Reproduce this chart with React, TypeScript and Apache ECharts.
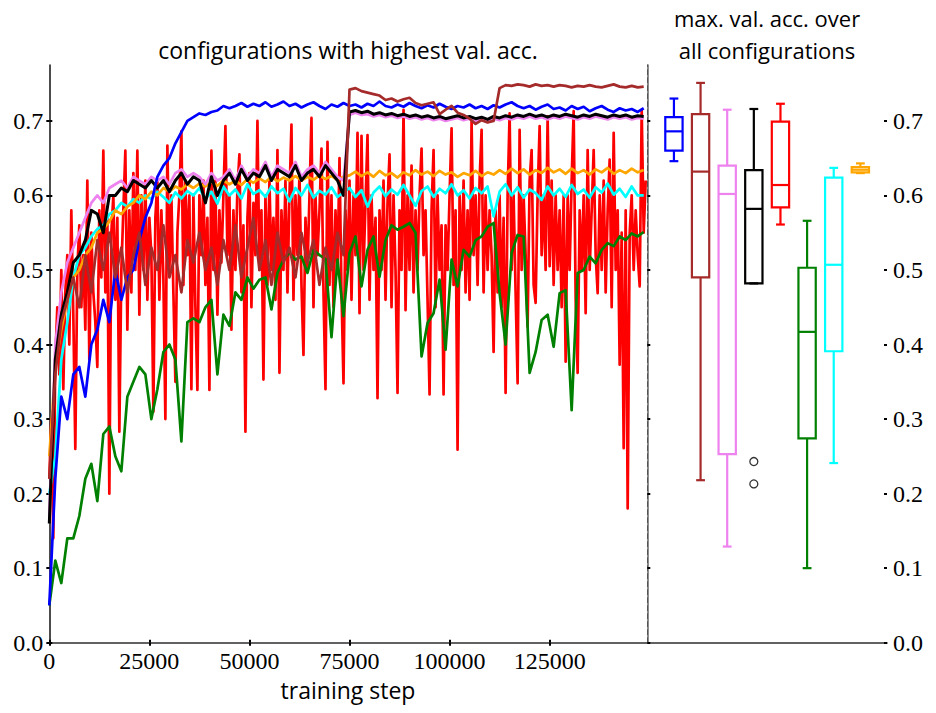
import React, { useEffect, useRef } from "react";
import * as echarts from "echarts";

// ---------- data ----------
const STEP = 1500; // evaluation interval of the smooth curves
const RED_STEP = 500; // evaluation interval of the red curve
const X_MAX = 149400;
const Y_MAX = 0.775;
const X_TICKS = [0, 25000, 50000, 75000, 100000, 125000];
const Y_TICKS = [0, 0.1, 0.2, 0.3, 0.4, 0.5, 0.6, 0.7];

const blueAcc = [
  0.05, 0.22, 0.33, 0.30, 0.36, 0.37, 0.33, 0.40, 0.42, 0.46,
  0.43, 0.50, 0.46, 0.49, 0.50, 0.54, 0.57, 0.59, 0.625, 0.64,
  0.65, 0.67, 0.685, 0.70, 0.705, 0.71, 0.708, 0.712, 0.714, 0.72,
  0.717, 0.72, 0.724, 0.719, 0.723, 0.72, 0.725, 0.719, 0.722, 0.726,
  0.72, 0.723, 0.718, 0.722, 0.725, 0.72, 0.716, 0.722, 0.719, 0.724,
  0.72, 0.722, 0.718, 0.723, 0.72, 0.726, 0.72, 0.718, 0.722, 0.719,
  0.724, 0.72, 0.717, 0.721, 0.718, 0.723, 0.719, 0.716, 0.72, 0.718,
  0.722, 0.717, 0.72, 0.716, 0.721, 0.718, 0.722, 0.725, 0.72, 0.717,
  0.72, 0.715, 0.719, 0.722, 0.716, 0.718, 0.714, 0.72, 0.716, 0.719,
  0.713, 0.717, 0.72, 0.715, 0.712, 0.717, 0.714, 0.716, 0.712, 0.717,
];

const brownAcc = [
  0.22, 0.36, 0.43, 0.46, 0.49, 0.45, 0.52, 0.47, 0.54, 0.50,
  0.55, 0.49, 0.53, 0.47, 0.52, 0.55, 0.48, 0.53, 0.50, 0.56,
  0.49, 0.52, 0.47, 0.54, 0.51, 0.55, 0.50, 0.53, 0.48, 0.54,
  0.50, 0.56, 0.49, 0.53, 0.57, 0.50, 0.54, 0.48, 0.55, 0.51,
  0.53, 0.49, 0.55, 0.51, 0.54, 0.48, 0.53, 0.50, 0.55, 0.52,
  0.742, 0.744, 0.74, 0.738, 0.736, 0.734, 0.728, 0.73, 0.726, 0.729,
  0.731, 0.724, 0.721, 0.723, 0.725, 0.709, 0.715, 0.72, 0.711, 0.708,
  0.703, 0.696, 0.701, 0.698, 0.70, 0.744, 0.748, 0.747, 0.749, 0.748,
  0.746, 0.749, 0.747, 0.748, 0.746, 0.748, 0.747, 0.745, 0.747, 0.746,
  0.748, 0.746, 0.745, 0.747, 0.749, 0.746, 0.745, 0.747, 0.745, 0.746,
];

const violetAcc = [
  0.17, 0.40, 0.47, 0.51, 0.53, 0.55, 0.57, 0.59, 0.60, 0.59,
  0.61, 0.615, 0.62, 0.61, 0.625, 0.62, 0.615, 0.625, 0.62, 0.625,
  0.615, 0.63, 0.635, 0.625, 0.63, 0.625, 0.615, 0.63, 0.62, 0.625,
  0.635, 0.62, 0.64, 0.625, 0.635, 0.63, 0.645, 0.625, 0.64, 0.635,
  0.63, 0.645, 0.625, 0.635, 0.64, 0.63, 0.645, 0.635, 0.625, 0.62,
  0.708, 0.711, 0.708, 0.709, 0.706, 0.708, 0.705, 0.707, 0.704, 0.706,
  0.703, 0.705, 0.702, 0.704, 0.701, 0.703, 0.70, 0.702, 0.704, 0.701,
  0.703, 0.70, 0.702, 0.699, 0.703, 0.701, 0.704, 0.702, 0.705, 0.703,
  0.706, 0.703, 0.705, 0.702, 0.705, 0.703, 0.706, 0.704, 0.702, 0.705,
  0.703, 0.706, 0.704, 0.702, 0.705, 0.703, 0.705, 0.702, 0.704, 0.703,
];

const blackAcc = [
  0.16, 0.38, 0.44, 0.47, 0.51, 0.52, 0.54, 0.58, 0.575, 0.55,
  0.60, 0.60, 0.61, 0.605, 0.62, 0.615, 0.61, 0.62, 0.61, 0.62,
  0.605, 0.62, 0.63, 0.615, 0.625, 0.62, 0.59, 0.625, 0.60, 0.62,
  0.63, 0.615, 0.635, 0.62, 0.63, 0.625, 0.64, 0.62, 0.635, 0.63,
  0.625, 0.64, 0.62, 0.63, 0.635, 0.625, 0.64, 0.63, 0.62, 0.60,
  0.712, 0.714, 0.711, 0.713, 0.709, 0.711, 0.708, 0.71, 0.707, 0.709,
  0.706, 0.708, 0.705, 0.707, 0.704, 0.706, 0.703, 0.705, 0.707, 0.704,
  0.706, 0.703, 0.705, 0.702, 0.706, 0.704, 0.707, 0.705, 0.708, 0.706,
  0.709, 0.706, 0.708, 0.705, 0.708, 0.706, 0.709, 0.707, 0.705, 0.708,
  0.706, 0.709, 0.707, 0.705, 0.708, 0.706, 0.708, 0.705, 0.707, 0.706,
];

const redAcc = [
  0.22, 0.30, 0.14, 0.38, 0.45, 0.36, 0.50, 0.34, 0.47, 0.52,
  0.40, 0.58, 0.44, 0.26, 0.50, 0.56, 0.45, 0.52, 0.42, 0.62,
  0.38, 0.55, 0.47, 0.43, 0.37, 0.58, 0.49, 0.66, 0.47, 0.57,
  0.20, 0.55, 0.60, 0.46, 0.57, 0.283, 0.50, 0.58, 0.66, 0.42,
  0.58, 0.47, 0.63, 0.50, 0.66, 0.44, 0.60, 0.50, 0.62, 0.46,
  0.57, 0.52, 0.31, 0.57, 0.62, 0.46, 0.58, 0.49, 0.30, 0.667,
  0.50, 0.60, 0.47, 0.35, 0.55, 0.60, 0.686, 0.48, 0.62, 0.52,
  0.60, 0.34, 0.60, 0.45, 0.339, 0.60, 0.52, 0.62, 0.48, 0.57,
  0.339, 0.66, 0.50, 0.62, 0.44, 0.58, 0.51, 0.60, 0.693, 0.52,
  0.60, 0.42, 0.58, 0.50, 0.61, 0.655, 0.47, 0.56, 0.283, 0.57,
  0.63, 0.45, 0.59, 0.52, 0.70, 0.50, 0.58, 0.353, 0.60, 0.48,
  0.62, 0.50, 0.57, 0.46, 0.661, 0.362, 0.58, 0.50, 0.62, 0.47,
  0.60, 0.695, 0.46, 0.60, 0.52, 0.63, 0.48, 0.386, 0.57, 0.50,
  0.60, 0.704, 0.45, 0.60, 0.52, 0.58, 0.663, 0.47, 0.34, 0.672,
  0.48, 0.60, 0.45, 0.58, 0.50, 0.65, 0.47, 0.348, 0.58, 0.50,
  0.62, 0.46, 0.60, 0.52, 0.684, 0.442, 0.68, 0.50, 0.59, 0.681,
  0.46, 0.60, 0.50, 0.57, 0.328, 0.58, 0.50, 0.62, 0.46, 0.59,
  0.655, 0.45, 0.60, 0.50, 0.335, 0.58, 0.50, 0.715, 0.446, 0.60,
  0.50, 0.64, 0.47, 0.58, 0.50, 0.60, 0.663, 0.52, 0.58, 0.46,
  0.333, 0.58, 0.661, 0.45, 0.60, 0.50, 0.56, 0.333, 0.56, 0.50,
  0.60, 0.69, 0.48, 0.58, 0.259, 0.60, 0.50, 0.62, 0.47, 0.58,
  0.46, 0.70, 0.52, 0.60, 0.48, 0.62, 0.688, 0.47, 0.60, 0.50,
  0.58, 0.52, 0.39, 0.58, 0.47, 0.60, 0.45, 0.57, 0.335, 0.60,
  0.71, 0.50, 0.60, 0.47, 0.348, 0.688, 0.50, 0.60, 0.52, 0.424,
  0.62, 0.661, 0.48, 0.456, 0.60, 0.693, 0.52, 0.60, 0.50, 0.706,
  0.505, 0.62, 0.48, 0.60, 0.50, 0.58, 0.45, 0.60, 0.377, 0.60,
  0.50, 0.62, 0.713, 0.46, 0.362, 0.58, 0.50, 0.60, 0.442, 0.661,
  0.50, 0.58, 0.661, 0.52, 0.469, 0.60, 0.50, 0.62, 0.47, 0.58,
  0.648, 0.45, 0.684, 0.50, 0.58, 0.373, 0.55, 0.261, 0.58, 0.18,
  0.55, 0.60, 0.50, 0.58, 0.52, 0.478, 0.715, 0.55, 0.62,
];

const greenAcc = [
  0.05, 0.11, 0.08, 0.14, 0.14, 0.17, 0.22, 0.24, 0.19, 0.28,
  0.29, 0.25, 0.23, 0.33, 0.35, 0.37, 0.36, 0.30, 0.34, 0.39,
  0.40, 0.38, 0.27, 0.43, 0.435, 0.43, 0.45, 0.46, 0.36, 0.44,
  0.425, 0.47, 0.46, 0.49, 0.475, 0.487, 0.49, 0.447, 0.496, 0.514,
  0.523, 0.514, 0.518, 0.496, 0.527, 0.52, 0.515, 0.41, 0.514, 0.438,
  0.523, 0.545, 0.478, 0.527, 0.545, 0.491, 0.54, 0.56, 0.554, 0.558,
  0.563, 0.55, 0.384, 0.429, 0.442, 0.487, 0.393, 0.514, 0.478, 0.527,
  0.518, 0.54, 0.545, 0.558, 0.563, 0.469, 0.40, 0.523, 0.547, 0.545,
  0.362, 0.39, 0.433, 0.44, 0.397, 0.469, 0.473, 0.312, 0.496, 0.50,
  0.518, 0.509, 0.527, 0.536, 0.532, 0.545, 0.54, 0.549, 0.545, 0.551,
];

const cyanAcc = [
  0.20, 0.25, 0.38, 0.43, 0.49, 0.52, 0.53, 0.545, 0.555, 0.56,
  0.575, 0.58, 0.59, 0.585, 0.595, 0.59, 0.60, 0.595, 0.605, 0.598,
  0.59, 0.604, 0.596, 0.606, 0.60, 0.61, 0.595, 0.605, 0.589, 0.612,
  0.60, 0.608, 0.596, 0.615, 0.602, 0.607, 0.598, 0.612, 0.603, 0.609,
  0.592, 0.61, 0.60, 0.614, 0.597, 0.606, 0.601, 0.611, 0.598, 0.604,
  0.61, 0.598, 0.607, 0.585, 0.604, 0.612, 0.599, 0.608, 0.601, 0.614,
  0.60, 0.586, 0.606, 0.612, 0.598, 0.609, 0.603, 0.615, 0.60, 0.607,
  0.596, 0.61, 0.603, 0.612, 0.572, 0.605, 0.615, 0.60, 0.611, 0.597,
  0.608, 0.603, 0.594, 0.612, 0.60, 0.609, 0.598, 0.614, 0.602, 0.608,
  0.597, 0.611, 0.604, 0.616, 0.601, 0.609, 0.598, 0.612, 0.60, 0.60,
];

const orangeAcc = [
  0.25, 0.37, 0.42, 0.46, 0.49, 0.50, 0.52, 0.53, 0.55, 0.555,
  0.565, 0.58, 0.575, 0.585, 0.59, 0.60, 0.595, 0.605, 0.60, 0.61,
  0.605, 0.612, 0.608, 0.615, 0.61, 0.616, 0.612, 0.618, 0.613, 0.62,
  0.615, 0.62, 0.614, 0.622, 0.617, 0.623, 0.618, 0.625, 0.619, 0.624,
  0.62, 0.626, 0.62, 0.625, 0.621, 0.627, 0.622, 0.626, 0.621, 0.625,
  0.627, 0.632, 0.626, 0.631, 0.625, 0.633, 0.627, 0.63, 0.624, 0.631,
  0.627, 0.634, 0.628, 0.632, 0.626, 0.633, 0.628, 0.631, 0.625, 0.63,
  0.627, 0.633, 0.626, 0.631, 0.628, 0.634, 0.629, 0.636, 0.63, 0.635,
  0.628, 0.634, 0.63, 0.637, 0.631, 0.635, 0.629, 0.636, 0.63, 0.634,
  0.628, 0.635, 0.631, 0.637, 0.629, 0.634, 0.63, 0.636, 0.631, 0.634,
];

// box plots: max. val. acc. over all configurations
const BOX_COLORS = ["#0000ff", "#a52a2a", "#ee82ee", "#000000", "#ff0000", "#008000", "#00ffff", "#ffa500"];
const BOX_POS = [1, 2, 3, 4, 5, 6, 7, 8];
const BOX_MIN = [0.646, 0.218, 0.129, 0.482, 0.561, 0.100, 0.241, 0.630];
const BOX_Q1 = [0.660, 0.490, 0.253, 0.482, 0.584, 0.274, 0.391, 0.631];
const BOX_MEDIAN = [0.686, 0.632, 0.602, 0.582, 0.614, 0.417, 0.507, 0.6345];
const BOX_Q3 = [0.705, 0.709, 0.640, 0.634, 0.699, 0.503, 0.624, 0.638];
const BOX_MAX = [0.730, 0.751, 0.715, 0.716, 0.723, 0.566, 0.637, 0.643];
const OUTLIER_POS = [4, 4];
const OUTLIER_VAL = [0.243, 0.213];

// ---------- styling ----------
const SERIF = "Liberation Serif, DejaVu Serif, Noto Serif, serif";
const SANS = "Open Sans";

const toPairs = (vals: number[], step: number) => vals.map((v, i) => [i * step, v]);

const lineSeries = (name: string, vals: number[], step: number, color: string, width = 2.7) => ({
  name,
  type: "line",
  xAxisIndex: 0,
  yAxisIndex: 0,
  data: toPairs(vals, step),
  showSymbol: false,
  symbol: "none",
  lineStyle: { color, width, join: "round" },
  emphasis: { disabled: true },
  silent: true,
});

export default function App() {
  const ref = useRef<HTMLDivElement>(null);

  useEffect(() => {
    if (!ref.current) return;
    const chart = echarts.init(ref.current, null, { renderer: "svg" });

    const boxData = BOX_POS.map((p, i) => [p, BOX_MIN[i], BOX_Q1[i], BOX_MEDIAN[i], BOX_Q3[i], BOX_MAX[i]]);
    const outlierData = OUTLIER_POS.map((p, i) => [p, OUTLIER_VAL[i]]);

    const tickStyle = { color: "#000", width: 2 };
    const noSplit = { show: false };
    const noLabel = { show: false };

    const option: any = {
      animation: false,
      backgroundColor: "#ffffff",
      grid: [
        { left: 49.3, top: 65, width: 598, height: 577.7 },
        { left: 647.3, top: 65, width: 239.7, height: 577.7 },
      ],
      xAxis: [
        {
          gridIndex: 0, type: "value", min: 0, max: X_MAX, position: "bottom",
          axisLine: { lineStyle: { color: "#666", width: 1.5 } },
          axisTick: { customValues: X_TICKS, length: 3, lineStyle: tickStyle },
          axisLabel: noLabel, splitLine: noSplit,
        },
        {
          gridIndex: 0, type: "value", min: 0, max: X_MAX, position: "top",
          axisLine: { lineStyle: { color: "#555", width: 1.5 } },
          axisTick: { show: false }, axisLabel: noLabel, splitLine: noSplit,
        },
        {
          gridIndex: 1, type: "value", min: 0, max: 9, position: "bottom",
          axisLine: { lineStyle: { color: "#666", width: 1.5 } },
          axisTick: { show: false }, axisLabel: noLabel, splitLine: noSplit,
        },
        {
          gridIndex: 1, type: "value", min: 0, max: 9, position: "top",
          axisLine: { lineStyle: { color: "#555", width: 1.5 } },
          axisTick: { show: false }, axisLabel: noLabel, splitLine: noSplit,
        },
        {
          gridIndex: 0, type: "value", min: 0, max: X_MAX, position: "bottom",
          axisLine: { show: false },
          axisTick: { inside: true, customValues: X_TICKS, length: 3, lineStyle: tickStyle },
          axisLabel: noLabel, splitLine: noSplit,
        },
      ],
      yAxis: [
        {
          gridIndex: 0, type: "value", min: 0, max: Y_MAX, position: "left",
          axisLine: { lineStyle: { color: "#111", width: 1.5 } },
          axisTick: { customValues: Y_TICKS, length: 3, lineStyle: tickStyle },
          axisLabel: noLabel, splitLine: noSplit,
        },
        {
          gridIndex: 0, type: "value", min: 0, max: Y_MAX, position: "left",
          axisLine: { show: false },
          axisTick: { inside: true, customValues: Y_TICKS, length: 3, lineStyle: tickStyle },
          axisLabel: noLabel, splitLine: noSplit,
        },
        {
          gridIndex: 1, type: "value", min: 0, max: Y_MAX, position: "left",
          axisLine: { lineStyle: { color: "#222", width: 1, type: [5, 3] } },
          axisTick: { show: false }, axisLabel: noLabel, splitLine: noSplit,
        },
        {
          gridIndex: 1, type: "value", min: 0, max: Y_MAX, position: "right",
          axisLine: { lineStyle: { color: "#666", width: 1.5 } },
          axisTick: { customValues: Y_TICKS, length: 3, lineStyle: tickStyle },
          axisLabel: noLabel, splitLine: noSplit,
        },
        {
          gridIndex: 1, type: "value", min: 0, max: Y_MAX, position: "right",
          axisLine: { show: false },
          axisTick: { inside: true, customValues: Y_TICKS, length: 3, lineStyle: tickStyle },
          axisLabel: noLabel, splitLine: noSplit,
        },
      ],
      series: [
        lineSeries("red", redAcc, RED_STEP, "#ff0000", 2.7),
        lineSeries("green", greenAcc, STEP, "#008000"),
        lineSeries("cyan", cyanAcc, STEP, "#00ffff"),
        lineSeries("orange", orangeAcc, STEP, "#ffa500"),
        lineSeries("violet", violetAcc, STEP, "#ee82ee", 2.7),
        lineSeries("black", blackAcc, STEP, "#000000", 3),
        lineSeries("blue", blueAcc, STEP, "#0000ff"),
        lineSeries("brown", brownAcc, STEP, "#a52a2a"),
        {
          type: "custom",
          xAxisIndex: 2,
          yAxisIndex: 3,
          data: boxData,
          silent: true,
          renderItem: (params: any, api: any) => {
            const pos = api.value(0);
            const color = BOX_COLORS[params.dataIndex];
            const pMin = api.coord([pos, api.value(1)]);
            const pQ1 = api.coord([pos, api.value(2)]);
            const pMed = api.coord([pos, api.value(3)]);
            const pQ3 = api.coord([pos, api.value(4)]);
            const pMax = api.coord([pos, api.value(5)]);
            const unit = api.size([1, 0])[0];
            const half = (unit * 0.65) / 2;
            const cap = (unit * 0.33) / 2;
            const cx = pMed[0];
            const st = { stroke: color, lineWidth: 2.2, fill: "none" };
            return {
              type: "group",
              children: [
                { type: "line", shape: { x1: cx, y1: pQ3[1], x2: cx, y2: pMax[1] }, style: st },
                { type: "line", shape: { x1: cx, y1: pQ1[1], x2: cx, y2: pMin[1] }, style: st },
                { type: "line", shape: { x1: cx - cap, y1: pMax[1], x2: cx + cap, y2: pMax[1] }, style: st },
                { type: "line", shape: { x1: cx - cap, y1: pMin[1], x2: cx + cap, y2: pMin[1] }, style: st },
                { type: "rect", shape: { x: cx - half, y: pQ3[1], width: half * 2, height: pQ1[1] - pQ3[1] }, style: st },
                { type: "line", shape: { x1: cx - half, y1: pMed[1], x2: cx + half, y2: pMed[1] }, style: st },
              ],
            };
          },
        },
        {
          type: "scatter",
          xAxisIndex: 2,
          yAxisIndex: 3,
          data: outlierData,
          symbol: "circle",
          symbolSize: 8,
          silent: true,
          itemStyle: { color: "#ffffff", borderColor: "#000", borderWidth: 1.3 },
        },
      ],
    };

    chart.setOption(option);

    // tick labels placed through the axes' own scales
    const leftX = chart.convertToPixel({ xAxisIndex: 0 }, 0) as number;
    const rightX = chart.convertToPixel({ xAxisIndex: 2 }, 9) as number;
    const bottomY = chart.convertToPixel({ yAxisIndex: 0 }, 0) as number;
    const tickFont = { fontFamily: SERIF, fontSize: 24, fill: "#000" };
    const xLabels = X_TICKS.map((v) => ({
      type: "text",
      x: chart.convertToPixel({ xAxisIndex: 0 }, v) as number,
      y: bottomY + 18,
      silent: true,
      style: { text: String(v), ...tickFont, textAlign: "center", textVerticalAlign: "middle" },
    }));
    const yLeft = Y_TICKS.map((v) => ({
      type: "text",
      x: leftX - 6,
      y: chart.convertToPixel({ yAxisIndex: 0 }, v) as number,
      silent: true,
      style: { text: v.toFixed(1), ...tickFont, textAlign: "right", textVerticalAlign: "middle" },
    }));
    const yRight = Y_TICKS.map((v) => ({
      type: "text",
      x: rightX + 6,
      y: chart.convertToPixel({ yAxisIndex: 3 }, v) as number,
      silent: true,
      style: { text: v.toFixed(1), ...tickFont, textAlign: "left", textVerticalAlign: "middle" },
    }));

    const titles = [
      {
        type: "text", x: 348, y: 50,
        style: { text: "configurations with highest val. acc.", fontFamily: SANS, fontSize: 23, fill: "#000", textAlign: "center", textVerticalAlign: "middle" },
      },
      {
        type: "text", x: 767, y: 18,
        style: { text: "max. val. acc. over", fontFamily: SANS, fontSize: 22, fill: "#000", textAlign: "center", textVerticalAlign: "middle" },
      },
      {
        type: "text", x: 767, y: 50,
        style: { text: "all configurations", fontFamily: SANS, fontSize: 22, fill: "#000", textAlign: "center", textVerticalAlign: "middle" },
      },
      {
        type: "text", x: 348, y: 690,
        style: { text: "training step", fontFamily: SANS, fontSize: 23, fill: "#000", textAlign: "center", textVerticalAlign: "middle" },
      },
    ];

    chart.setOption({ graphic: [...titles, ...xLabels, ...yLeft, ...yRight] });
    return () => chart.dispose();
  }, []);

  return (
    <div
      ref={ref}
      style={{ position: "fixed", left: 0, top: 0, width: 936, height: 713, background: "#fff" }}
    />
  );
}
